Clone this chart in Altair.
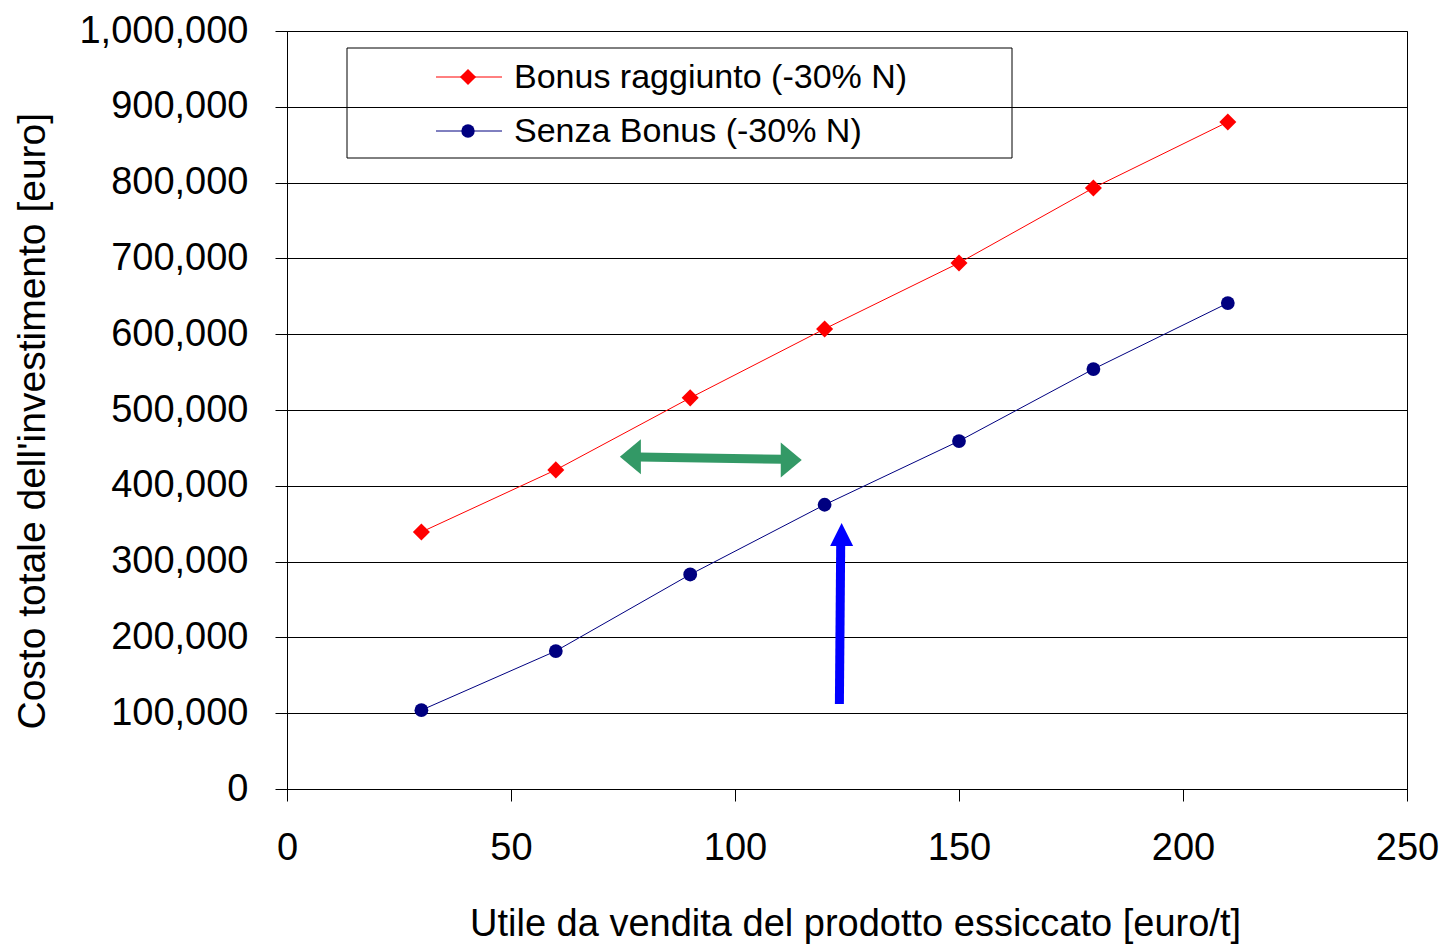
import altair as alt
import pandas as pd

# ---- data ----
x_vals = [30, 60, 90, 120, 150, 180, 210]
bonus_vals = [339000, 421000, 516000, 607000, 694000, 793000, 880000]
senza_vals = [104000, 182000, 283000, 375000, 459000, 554000, 641000]
series_names = ["Bonus raggiunto (-30% N)", "Senza Bonus (-30% N)"]
series_colors = ["#FF0000", "#000080"]
series_shapes = ["diamond", "circle"]

x_ticks = [0, 50, 100, 150, 200, 250]
y_ticks = [0, 100000, 200000, 300000, 400000, 500000, 600000, 700000, 800000, 900000, 1000000]

# annotation arrows (data coordinates)
green_tip_x = [74.3, 114.9]
green_tip_y = [438400, 434200]
green_shaft_x = [78.5, 110.8]
green_shaft_y = [438000, 435000]
blue_tip_x = [123.8]
blue_tip_y = [350900]
blue_shaft_x = [123.3, 123.6]
blue_shaft_y = [112100, 327000]

FONT = "Liberation Sans"

df = pd.DataFrame({
    "x": x_vals * 2,
    "y": bonus_vals + senza_vals,
    "series": [series_names[0]] * len(x_vals) + [series_names[1]] * len(x_vals),
})

xscale = alt.Scale(domain=[0, 250], nice=False, zero=True)
yscale = alt.Scale(domain=[0, 1000000], nice=False)
cscale = alt.Scale(domain=series_names, range=series_colors)
sscale = alt.Scale(domain=series_names, range=series_shapes)

xaxis = alt.Axis(values=x_ticks, grid=False, tickSize=12, labelPadding=28,
                 labelFontSize=38, labelFont=FONT, labelColor="black",
                 domainColor="black", tickColor="black",
                 title="Utile da vendita del prodotto essiccato [euro/t]",
                 titleFont=FONT, titleFontSize=38, titleFontWeight="normal",
                 titleColor="black", titleX=568, titleY=146,
                 titleAlign="center", titleBaseline="alphabetic",
                 labelFlush=False)
yaxis = alt.Axis(values=y_ticks, format=",.0f", grid=True, gridColor="black",
                 gridOpacity=1, gridWidth=1, tickSize=12, labelPadding=27,
                 labelFontSize=38, labelFont=FONT, labelColor="black",
                 domainColor="black", tickColor="black",
                 title="Costo totale dell'investimento [euro]",
                 titleFont=FONT, titleFontSize=39, titleFontWeight="normal",
                 titleColor="black", titleAngle=270, titleX=-243, titleY=698,
                 titleAlign="left", titleBaseline="alphabetic")

base = alt.Chart(df)
lines = base.mark_line(strokeWidth=1).encode(
    x=alt.X("x:Q", scale=xscale, axis=xaxis),
    y=alt.Y("y:Q", scale=yscale, axis=yaxis),
    color=alt.Color("series:N", scale=cscale, legend=None),
    detail="series:N",
)
points = base.mark_point(filled=True, opacity=1).encode(
    x=alt.X("x:Q", scale=xscale),
    y=alt.Y("y:Q", scale=yscale),
    color=alt.Color("series:N", scale=cscale, legend=None),
    shape=alt.Shape("series:N", scale=sscale, legend=None),
    size=alt.condition(alt.datum.series == series_names[0], alt.value(290), alt.value(190)),
)

GREEN = "#339966"
green_shaft = alt.Chart(pd.DataFrame({"x": [green_shaft_x[0]], "x2": [green_shaft_x[1]],
                                      "y": [green_shaft_y[0]], "y2": [green_shaft_y[1]]})).mark_rule(
    strokeWidth=9, color=GREEN, strokeCap="butt").encode(
    x=alt.X("x:Q", scale=xscale), x2="x2:Q", y=alt.Y("y:Q", scale=yscale), y2="y2:Q")
green_left = alt.Chart(pd.DataFrame({"x": [green_tip_x[0]], "y": [green_tip_y[0]]})).mark_point(
    shape="M0,0L1.2,-1L1.2,1Z", filled=True, opacity=1, size=1225, color=GREEN).encode(
    x=alt.X("x:Q", scale=xscale), y=alt.Y("y:Q", scale=yscale))
green_right = alt.Chart(pd.DataFrame({"x": [green_tip_x[1]], "y": [green_tip_y[1]]})).mark_point(
    shape="M0,0L-1.2,-1L-1.2,1Z", filled=True, opacity=1, size=1225, color=GREEN).encode(
    x=alt.X("x:Q", scale=xscale), y=alt.Y("y:Q", scale=yscale))

BLUE = "#0000FF"
blue_shaft = alt.Chart(pd.DataFrame({"x": [blue_shaft_x[0]], "x2": [blue_shaft_x[1]],
                                     "y": [blue_shaft_y[0]], "y2": [blue_shaft_y[1]]})).mark_rule(
    strokeWidth=9, color=BLUE, strokeCap="butt").encode(
    x=alt.X("x:Q", scale=xscale), x2="x2:Q", y=alt.Y("y:Q", scale=yscale), y2="y2:Q")
blue_head = alt.Chart(pd.DataFrame({"x": blue_tip_x, "y": blue_tip_y})).mark_point(
    shape="M0,0L-1,2L1,2Z", filled=True, opacity=1, size=529, color=BLUE).encode(
    x=alt.X("x:Q", scale=xscale), y=alt.Y("y:Q", scale=yscale))

# ---- manual legend box ----
one = pd.DataFrame({"k": [0]})
legend_box = alt.Chart(one).mark_rect(fill=None, fillOpacity=0, stroke="black", strokeWidth=1).encode(
    x=alt.value(60), x2=alt.value(725), y=alt.value(17), y2=alt.value(127))
legend_layers = [legend_box]
row_y = [46, 100]
for name, col, shp, ry, sz in zip(series_names, series_colors, series_shapes, row_y, [260, 180]):
    d = pd.DataFrame({"label": [name]})
    legend_layers.append(alt.Chart(d).mark_rule(color=col, strokeWidth=1).encode(
        x=alt.value(149), x2=alt.value(215), y=alt.value(ry)))
    legend_layers.append(alt.Chart(d).mark_point(shape=shp, filled=True, opacity=1, color=col, size=sz).encode(
        x=alt.value(181), y=alt.value(ry)))
    legend_layers.append(alt.Chart(d).mark_text(align="left", baseline="middle", font=FONT,
                                                fontSize=34, color="black", dy=1).encode(
        x=alt.value(227), y=alt.value(ry), text="label:N"))

chart = alt.layer(
    lines, points, green_shaft, green_left, green_right, blue_shaft, blue_head, *legend_layers
).properties(
    width=1120, height=758,
    autosize=alt.AutoSizeParams(type="none"),
    padding={"left": 287, "top": 31, "right": 36, "bottom": 156},
    background="white",
).configure_view(stroke="black", strokeWidth=1)

chart.save("out.html", embed_options={"renderer": "svg", "actions": False})
